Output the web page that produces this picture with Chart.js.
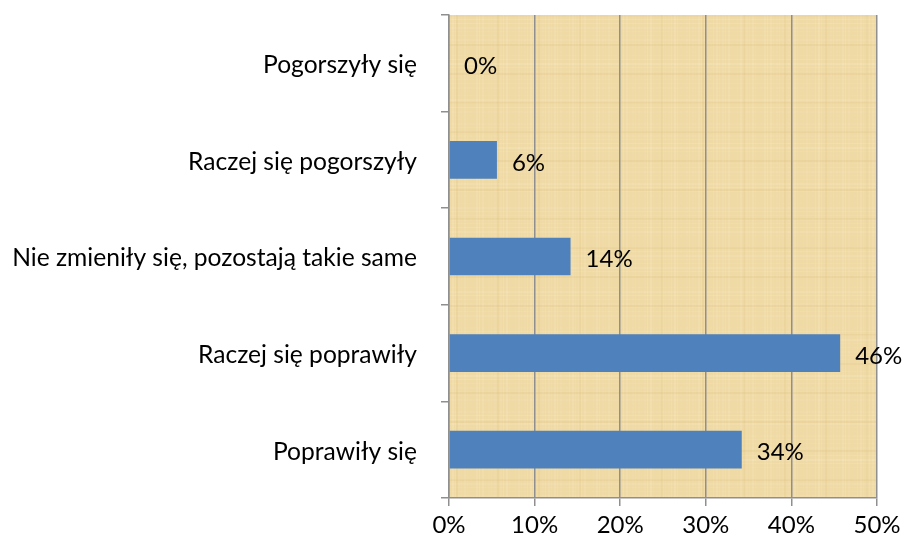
<!DOCTYPE html>
<html>
<head>
<meta charset="utf-8">
<script src="https://cdn.jsdelivr.net/npm/chart.js@4.4.1/dist/chart.umd.min.js"></script>
<style>
  html, body { margin: 0; padding: 0; background: #fff; }
  #wrap { width: 905px; height: 545px; position: relative; }
</style>
</head>
<body>
<div id="wrap"><canvas id="chart"></canvas></div>
<script>
// ======== Data ========
const categories = [
  'Pogorszyły się',
  'Raczej się pogorszyły',
  'Nie zmieniły się, pozostają takie same',
  'Raczej się poprawiły',
  'Poprawiły się'
];
const values = [0, 5.6, 14.2, 45.7, 34.2];
const xTicks = [0, 10, 20, 30, 40, 50];

const FONT = 'Lato, "Liberation Sans", sans-serif';
const GRID = '#8f8f8f';

// papyrus-ish texture, deterministic
function makeTexture(w, h) {
  const c = document.createElement('canvas');
  c.width = w; c.height = h;
  const g = c.getContext('2d');
  g.fillStyle = '#efd9a4';
  g.fillRect(0, 0, w, h);
  for (let x = 0; x < w; x += 3) {
    const a = 0.10 + 0.10 * Math.sin(x * 0.37) * Math.cos(x * 0.11);
    g.fillStyle = 'rgba(255,245,215,' + Math.max(0, a).toFixed(3) + ')';
    g.fillRect(x, 0, 1 + (x % 2), h);
  }
  for (let y = 0; y < h; y += 4) {
    const a = 0.09 + 0.09 * Math.sin(y * 0.23) * Math.cos(y * 0.07);
    g.fillStyle = 'rgba(255,248,222,' + Math.max(0, a).toFixed(3) + ')';
    g.fillRect(0, y, w, 1 + (y % 3 === 0 ? 1 : 0));
  }
  for (let y = 0; y < h; y += 29) {
    g.fillStyle = 'rgba(214,180,110,0.14)';
    g.fillRect(0, y, w, 2);
  }
  for (let x = 7; x < w; x += 41) {
    g.fillStyle = 'rgba(214,180,110,0.12)';
    g.fillRect(x, 0, 2, h);
  }
  return c;
}

const bgPlugin = {
  id: 'papyrus',
  beforeDraw(chart) {
    const a = chart.chartArea;
    const tex = makeTexture(Math.round(a.right - a.left), Math.round(a.bottom - a.top));
    chart.ctx.drawImage(tex, a.left, a.top);
  }
};

const labelPlugin = {
  id: 'valueLabels',
  afterDatasetsDraw(chart) {
    const ctx = chart.ctx;
    const meta = chart.getDatasetMeta(0);
    ctx.save();
    ctx.font = '24px ' + FONT;
    ctx.fillStyle = '#000';
    ctx.textAlign = 'left';
    ctx.textBaseline = 'middle';
    meta.data.forEach((bar, i) => {
      ctx.fillText(Math.round(values[i]) + '%', bar.x + 15, bar.y + 3);
    });
    ctx.restore();
  }
};

new Chart(document.getElementById('chart'), {
  type: 'bar',
  data: {
    labels: categories,
    datasets: [{
      data: values,
      backgroundColor: '#4f81bd',
      borderWidth: 0,
      categoryPercentage: 1,
      barPercentage: 0.39
    }]
  },
  options: {
    indexAxis: 'y',
    responsive: true,
    maintainAspectRatio: false,
    animation: false,
    layout: { padding: { top: 15, right: 28, left: 0, bottom: 0 } },
    plugins: { legend: { display: false }, tooltip: { enabled: false } },
    scales: {
      x: {
        min: 0, max: 50,
        afterBuildTicks(scale) { scale.ticks = xTicks.map(v => ({ value: v })); },
        afterFit(scale) { scale.height = 47; scale.paddingLeft = 0; scale.paddingRight = 0; },
        ticks: {
          color: '#000', padding: 5,
          font: { family: FONT, size: 24 },
          callback: v => v + '%'
        },
        grid: { color: GRID, lineWidth: 1.5, tickLength: 8, drawTicks: true },
        border: { color: GRID, width: 1.5 }
      },
      y: {
        offset: true,
        afterFit(scale) { scale.width = 449; scale.paddingTop = 0; scale.paddingBottom = 0; },
        ticks: {
          color: '#000', padding: 24, labelOffset: 2,
          font: { family: FONT, size: 24.6 }
        },
        grid: { offset: true, drawOnChartArea: false, color: GRID, lineWidth: 1.5, tickLength: 8 },
        border: { color: GRID, width: 1.5 }
      }
    }
  },
  plugins: [bgPlugin, labelPlugin]
});
</script>
</body>
</html>
